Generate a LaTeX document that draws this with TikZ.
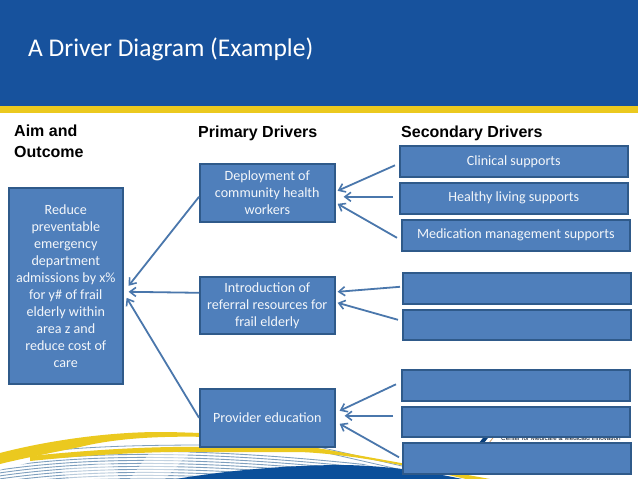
\documentclass[tikz,border=0pt]{standalone}
\usepackage{fontspec}
\setmainfont{Carlito}
\newfontfamily\headfont{Liberation Sans}
\usetikzlibrary{arrows.meta}
\definecolor{hdr}{HTML}{17529D}
\definecolor{gold}{HTML}{EBC91F}
\definecolor{boxfill}{HTML}{4F7FBB}
\definecolor{boxline}{HTML}{2F5A8A}
\definecolor{arrowc}{HTML}{4A77AC}
\definecolor{stripe}{HTML}{7E9FBE}
\definecolor{deepblue}{HTML}{0B4F9A}
\tikzset{
  box/.style={draw=boxline,line width=1.6pt,fill=boxfill,text=white!93!boxfill,inner sep=0pt,align=center,
    font=\fontsize{14.1}{17}\selectfont,anchor=north west},
  head/.style={font=\headfont\bfseries\fontsize{16}{21}\selectfont,text=black,anchor=west,align=left,inner sep=0pt},
  arr/.style={draw=arrowc,line width=1.8pt,-{Straight Barb[length=6pt,width=9pt,line width=1.6pt]}},
}
\begin{document}
\begin{tikzpicture}[x=1pt,y=-1pt]
\useasboundingbox (0,0) rectangle (638,479);
\fill[white] (0,0) rectangle (638,479);
% header
\fill[hdr] (0,0) rectangle (638,106);
\fill[gold] (0,106) rectangle (638,113);
\node[anchor=west,inner sep=0pt,text=white,font=\fontsize{25.5}{28}\selectfont] (title) at (28,49) {A Driver Diagram (Example)};
% bottom artwork
\begin{scope}
\clip (0,479) -- (0,470) .. controls (60,453) and (130,449) .. (210,449) -- (310,451) -- (425,479) -- cycle;
\foreach \i in {0,...,13}{
  \draw[stripe,line width=0.9pt] (-20,{464+3*\i}) .. controls (80,{447+3*\i}) and (210,{445+3*\i}) .. (430,{472+3*\i});
}
\fill[white,opacity=.55] (150,452) -- (190,452) -- (165,479) -- (130,479) -- cycle;
\fill[white,opacity=.45] (60,470) -- (110,462) -- (120,479) -- (70,479) -- cycle;
\end{scope}
\draw[stripe,line width=0.8pt] (38,452) .. controls (90,446) and (150,445) .. (210,445) -- (310,445) -- (402,466);
\draw[stripe,line width=0.8pt] (310,449) -- (402,470);
\fill[gold] (0,453) .. controls (50,440) and (110,432) .. (160,432) .. controls (180,432) and (190,433) .. (210,433)
  -- (210,437) .. controls (170,436) and (120,437) .. (80,447) .. controls (50,453) and (20,459) .. (0,464) -- cycle;
\fill[gold] (30,456) .. controls (90,450) and (150,446) .. (210,447) -- (306,446) .. controls (340,452) and (440,470) .. (490,479) -- (466,479)
  .. controls (410,466) and (350,454) .. (300,452) -- (210,452) .. controls (150,451) and (90,455) .. (30,461) -- cycle;
\fill[deepblue] (176,479) .. controls (230,470) and (290,465) .. (345,465) .. controls (390,466) and (430,472) .. (462,479) -- cycle;
% logo strip
\fill[deepblue!80!black] (479,443) -- (486,434) -- (491,434) -- (484,443) -- cycle;
\draw[black!30!orange!60,line width=0.8pt] (489,443) -- (496,434);
\node[anchor=west,inner sep=0pt,text=black!80!hdr,font=\headfont\fontsize{6.3}{8}\selectfont] (logo) at (501,438.5) {Center for Medicare \& Medicaid Innovation};
% aim
\node[box,minimum width=114pt,minimum height=196pt] (aim) at (8,187) {Reduce\\preventable\\emergency\\department\\admissions by x\%\\for y\# of frail\\elderly within\\area z and\\reduce cost of\\care};
% primary
\node[box,minimum width=135pt,minimum height=58pt] (p1) at (199,163) {Deployment of\\community health\\workers};
\node[box,minimum width=135pt,minimum height=57pt] (p2) at (199,276) {Introduction of\\referral resources for\\frail elderly};
\node[box,minimum width=135pt,minimum height=58pt] (p3) at (199,388) {Provider education};
% secondary
\node[box,minimum width=228pt,minimum height=31pt] (s1) at (399,145) {Clinical supports};
\node[box,minimum width=228pt,minimum height=31pt] (s2) at (399,182) {Healthy living supports};
\node[box,minimum width=228pt,minimum height=31pt] (s3) at (401,219) {Medication management supports};
\node[box,minimum width=228pt,minimum height=31pt] (s4) at (402,272) {};
\node[box,minimum width=228pt,minimum height=30pt] (s5) at (402,309) {};
\node[box,minimum width=228pt,minimum height=31pt] (s6) at (401,369) {};
\node[box,minimum width=228pt,minimum height=30pt] (s7) at (401,406) {};
\node[box,minimum width=228pt,minimum height=31pt] (s8) at (402,442) {};
% headings
\node[head] (h1) at (14,141) {Aim and\\Outcome};
\node[head] (h2) at (198,133) {Primary Drivers};
\node[head] (h3) at (401,133) {Secondary Drivers};
% connectors
\draw[arr] ([shift={(0,4)}]p1.west) -- ([shift={(5,0)}]aim.east);
\draw[arr] ([shift={(0,-12.5)}]p2.west) -- ([shift={(5,6)}]aim.east);
\draw[arr] ([shift={(0,0)}]p3.west) -- ([shift={(3,12)}]aim.east);
\draw[arr] ([shift={(-4,4)}]s1.west) -- ([shift={(2,-2)}]p1.east);
\draw[arr] ([shift={(-6,-1.5)}]s2.west) -- ([shift={(8,4)}]p1.east);
\draw[arr] ([shift={(-4,2.5)}]s3.west) -- ([shift={(2,11)}]p1.east);
\draw[arr] ([shift={(-2,-1.5)}]s4.west) -- ([shift={(2,-13.5)}]p2.east);
\draw[arr] ([shift={(-4,-5)}]s5.west) -- ([shift={(2,-2.5)}]p2.east);
\draw[arr] ([shift={(-5,-1)}]s6.west) -- ([shift={(4,-7)}]p3.east);
\draw[arr] ([shift={(-8,-6)}]s7.west) -- ([shift={(9,-2)}]p3.east);
\draw[arr] ([shift={(-3,-1)}]s8.west) -- ([shift={(4,6)}]p3.east);
\end{tikzpicture}
\end{document}
